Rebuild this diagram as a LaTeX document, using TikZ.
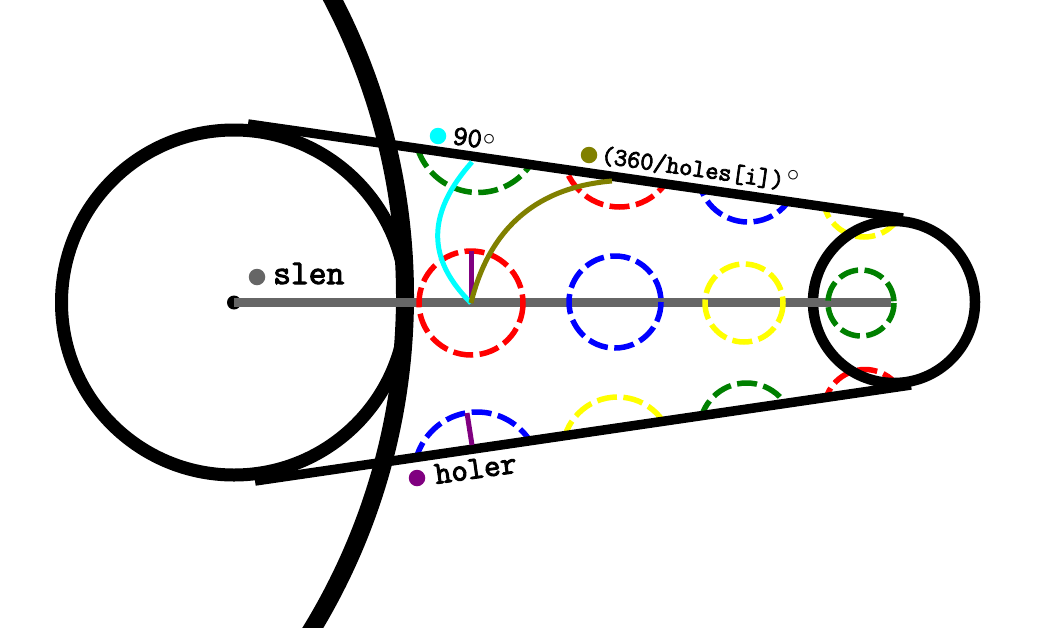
\documentclass[tikz,border=0pt]{standalone}
\usepackage{fontspec}
\newfontfamily\lblfont{Latin Modern Mono}[FakeBold=3]
\definecolor{hgreen}{RGB}{0,128,0}
\definecolor{hred}{RGB}{255,0,0}
\definecolor{hblue}{RGB}{0,0,255}
\definecolor{hyellow}{RGB}{255,255,0}
\definecolor{hcyan}{RGB}{0,255,255}
\definecolor{holive}{RGB}{128,128,0}
\definecolor{hgray}{RGB}{102,102,102}
\definecolor{hpurple}{RGB}{128,0,128}
\tikzset{
 belt/.style={line width=9.5pt,black},
 hole/.style={line width=5.5pt,dash pattern=on 20pt off 6.5pt},
 dot/.style={circle,inner sep=0pt,minimum size=16.5pt},
 lbl/.style={inner sep=0pt,anchor=base west},
 deg/.style={inner sep=0pt,font=\fontsize{24}{24}\selectfont}
}
\begin{document}
\begin{tikzpicture}[x=1pt,y=-1pt]
\useasboundingbox (0,0) rectangle (1051,627);
\coordinate (c) at (234,302.5);
\coordinate (p) at (471,303);
\coordinate (tl) at (248,124);
\coordinate (tr) at (903,218);
\coordinate (bl) at (255,481);
\coordinate (br) at (911,385);
\begin{scope}
\clip (tl) -- (tr) -- (1051,218) -- (1051,385) -- (br) -- (bl) -- cycle;
\draw[hole,hgreen] (478,129) circle (63.5);
\draw[hole,hred] (619.5,150) circle (57);
\draw[hole,hblue] (748,172) circle (50);
\draw[hole,hyellow] (864,196) circle (41);
\draw[hole,hblue] (477,475) circle (63);
\draw[hole,hyellow] (617.5,452) circle (55);
\draw[hole,hgreen] (746.5,430) circle (47);
\draw[hole,hred] (865,410.5) circle (41);
\end{scope}
\fill[black] (c) circle (7);
\draw[line width=13pt] (c) circle (172.5);
\draw[line width=10.5pt] (894,302) circle (81);
\begin{scope}
\clip (0,0) rectangle (1051,627);
\draw[line width=18pt] (-238,296) circle (643);
\end{scope}
\draw[belt] (tl) -- (tr);
\draw[belt] (bl) -- (br);
\draw[line width=9pt,hgray] (c) -- (891,302.5);
\draw[hole,hred] (p) circle (52);
\draw[hole,hblue] (615,302) circle (46);
\draw[hole,hyellow] (744,303) circle (39);
\draw[hole,hgreen] (861,303) circle (33);
\draw[line width=5pt,hpurple] (p) -- (471,251);
\draw[line width=5pt,hpurple] (467,413) -- (472,445);
\draw[line width=5pt,hcyan] (p) .. controls (438,270) and (416,225) .. (472,162);
\draw[line width=5pt,holive] (p) .. controls (490,225) and (540,187) .. (612,181);
\node[dot,fill=hcyan] (d1) at (438,136) {};
\node[dot,fill=holive] (d2) at (589,155) {};
\node[dot,fill=hgray] (d3) at (257,277) {};
\node[dot,fill=hpurple] (d4) at (417,478) {};
\node[lbl,rotate=-8,font=\lblfont\fontsize{28}{28}\selectfont] (t1) at (452,144) {90};
\node[deg,rotate=-8] (o1) at (489,140) {$\circ$};
\node[lbl,rotate=-8,font=\lblfont\fontsize{25.6}{25.6}\selectfont] (t2) at (600,163) {(360/holes[i])};
\node[deg,rotate=-8] (o2) at (793,176) {$\circ$};
\node[lbl,font=\lblfont\fontsize{34.5}{34.5}\selectfont] (t3) at (273,284) {slen};
\node[lbl,rotate=8,font=\lblfont\fontsize{32}{32}\selectfont] (t4) at (436,484) {holer};
\end{tikzpicture}
\end{document}
